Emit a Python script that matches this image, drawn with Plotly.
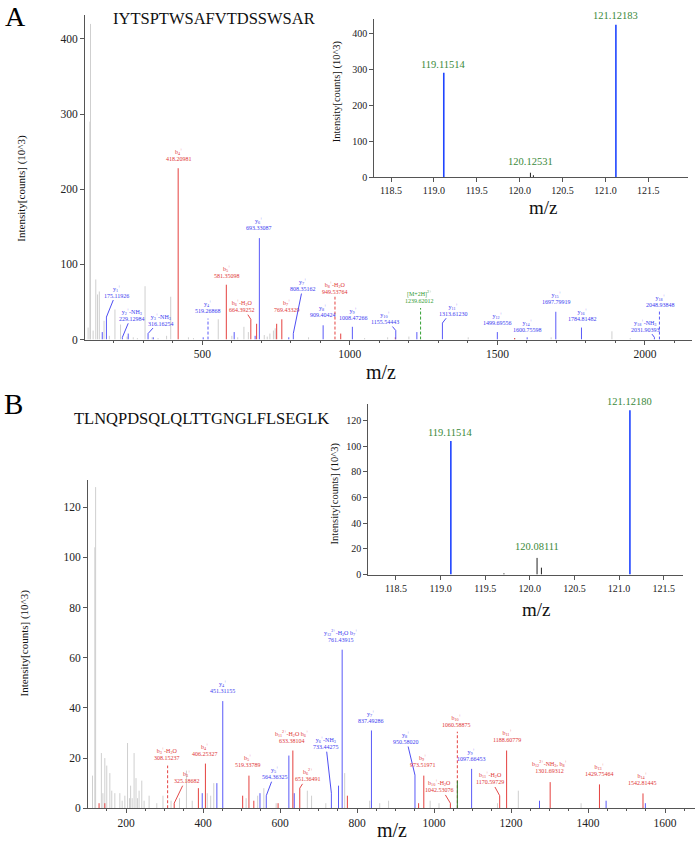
import plotly.graph_objects as go

W, H = 697, 847
SERIF = "Liberation Serif, Times New Roman, serif"

# ------------------------------------------------------------------ data
A_SEQUENCE = "IYTSPTWSAFVTDSSWSAR"
B_SEQUENCE = "TLNQPDSQLQLTTGNGLFLSEGLK"
Y_TITLE = "Intensity[counts] (10^3)"
X_TITLE = "m/z"

# Panel A, unassigned peaks
A_GRAY_MZ = [113, 119.1, 121.1, 130, 139, 145, 151, 167, 185, 204, 223, 245, 266, 280, 306, 330, 350,
             379, 393, 453, 470, 554, 600, 620, 641, 656, 710, 720, 729, 741, 747, 860, 1050, 1128,
             1200, 1401, 1560, 1682, 1888, 1950]
A_GRAY_INT = [16, 290, 420, 12, 80, 60, 64, 25, 5, 40, 20, 4, 3, 2, 71, 3, 2, 5, 57, 3, 2, 27, 5, 3,
              17, 10, 6, 4, 8, 12, 15, 3, 2, 3, 4, 3, 2, 3, 11, 2]
A_RED_MZ = [684, 752, 969, 1154, 1558]
A_RED_INT = [21, 21, 8, 3, 2]
A_BLUE_MZ = [161, 249, 334, 503, 608, 679, 793, 1227]
A_BLUE_INT = [10, 8, 3, 3, 10, 5, 3, 10]

# Panel A, annotated fragment ions
A_ION_MZ = [175.11926, 229.12984, 316.16254, 418.20981, 519.26868, 581.35098, 664.39252, 693.33087,
            769.43329, 808.35162, 909.40424, 949.53764, 1008.47266, 1155.54443, 1239.62012,
            1313.61230, 1499.69556, 1600.75598, 1697.79919, 1784.81482, 2031.90393, 2048.93848]
A_ION_INT = [30, 3, 8, 228, 28, 73, 27, 135, 27, 8, 19, 57, 17, 12, 42, 22, 10, 3, 37, 16, 3, 40]
A_ION_NAME = ["y<sub>1</sub><sup>+</sup>", "y<sub>2</sub><sup>+</sup>-NH<sub>3</sub>",
              "y<sub>3</sub><sup>+</sup>-NH<sub>3</sub>", "b<sub>4</sub><sup>+</sup>",
              "y<sub>4</sub><sup>+</sup>", "b<sub>5</sub><sup>+</sup>",
              "b<sub>6</sub><sup>+</sup>-H<sub>2</sub>O", "y<sub>6</sub><sup>+</sup>",
              "b<sub>7</sub><sup>+</sup>", "y<sub>7</sub><sup>+</sup>", "y<sub>8</sub><sup>+</sup>",
              "b<sub>8</sub><sup>+</sup>-H<sub>2</sub>O", "y<sub>9</sub><sup>+</sup>",
              "y<sub>10</sub><sup>+</sup>", "[M+2H]<sup>2+</sup>", "y<sub>11</sub><sup>+</sup>",
              "y<sub>12</sub><sup>+</sup>", "y<sub>14</sub><sup>+</sup>", "y<sub>15</sub><sup>+</sup>",
              "y<sub>16</sub><sup>+</sup>", "y<sub>18</sub><sup>+</sup>-NH<sub>3</sub>",
              "y<sub>18</sub><sup>+</sup>"]
A_ION_KIND = ["y", "y", "y", "b", "y", "b", "b", "y", "b", "y", "y", "b", "y", "y", "M", "y", "y", "y",
              "y", "y", "y", "y"]
A_ION_DASHED = [False, False, False, False, True, False, False, False, False, False, False, True,
                False, False, True, False, False, False, False, False, False, True]

# Panel A inset
A_INSET_MZ = [119.11514, 120.12531, 120.16, 121.12183]
A_INSET_INT = [291, 12, 5, 425]
A_INSET_KIND = ["rep", "other", "other", "rep"]
A_INSET_LABEL = ["119.11514", "120.12531", "", "121.12183"]

# Panel B, unassigned peaks
B_GRAY_MZ = [113, 119.1, 121.1, 136, 140, 145, 150, 158, 163, 171, 184, 190, 197, 204, 209, 212, 216,
             221, 226, 230, 234, 241, 247, 260, 280, 296, 317, 339, 357, 372, 411, 420, 428, 512, 542,
             558, 590, 671, 682, 719, 768, 833, 859, 882, 990, 1013, 1165, 1219, 1382]
B_GRAY_INT = [13, 104, 128, 22, 6, 20, 17, 14, 7, 6, 6, 3, 5, 26, 4, 9, 4, 22, 12, 4, 7, 11, 3, 5, 2,
              5, 3, 4, 15, 3, 6, 5, 10, 4, 5, 8, 2, 7, 5, 2, 14, 3, 2, 3, 3, 2, 2, 7, 2]
B_RED_MZ = [130, 145, 388, 503, 532, 595, 775, 960]
B_RED_INT = [2, 2, 8, 5, 3, 2, 5, 2]
B_BLUE_MZ = [398, 436, 548, 623, 637, 752, 1274, 1447, 1549]
B_BLUE_INT = [6, 10, 6, 21, 6, 9, 3, 3, 2]
B_DKGREEN_MZ = [1060.58875]
B_DKGREEN_INT = [11]

# Panel B, annotated fragment ions
B_ION_MZ = [308.15237, 325.18682, 406.25327, 451.31155, 519.33789, 564.36325, 633.38104, 651.36491,
            733.44275, 761.43915, 837.49286, 950.58020, 973.51971, 1042.53076, 1060.58875,
            1097.66453, 1170.59729, 1188.60779, 1301.69312, 1429.75464, 1542.81445]
B_ION_INT = [17, 2, 17.8, 42.7, 13, 5, 23, 8, 6, 63.2, 31, 13.2, 13, 2, 30.5, 15.7, 5, 23, 10.4, 9.5, 5.9]
B_ION_NAME = ["b<sub>3</sub><sup>+</sup>-H<sub>2</sub>O", "b<sub>3</sub><sup>+</sup>",
              "b<sub>4</sub><sup>+</sup>", "y<sub>4</sub><sup>+</sup>", "b<sub>5</sub><sup>+</sup>",
              "y<sub>5</sub><sup>+</sup>", "b<sub>11</sub><sup>2+</sup>-H<sub>2</sub>O b<sub>6</sub><sup>+</sup>",
              "b<sub>6</sub><sup>2+</sup>", "y<sub>6</sub><sup>+</sup>-NH<sub>3</sub>",
              "y<sub>12</sub><sup>2+</sup>-H<sub>2</sub>O b<sub>7</sub><sup>+</sup>",
              "y<sub>7</sub><sup>+</sup>", "y<sub>8</sub><sup>+</sup>", "b<sub>9</sub><sup>+</sup>",
              "b<sub>10</sub><sup>+</sup>-H<sub>2</sub>O", "b<sub>10</sub><sup>+</sup>",
              "y<sub>9</sub><sup>+</sup>", "b<sub>11</sub><sup>+</sup>-H<sub>2</sub>O",
              "b<sub>11</sub><sup>+</sup>", "b<sub>12</sub><sup>2+</sup>-NH<sub>3</sub>, b<sub>8</sub><sup>+</sup>",
              "b<sub>13</sub><sup>+</sup>", "b<sub>14</sub><sup>+</sup>"]
B_ION_KIND = ["b", "b", "b", "y", "b", "y", "b", "b", "y", "y", "y", "y", "b", "b", "b", "y", "b", "b",
              "b", "b", "b"]
B_ION_DASHED = [True, False, False, False, False, False, False, False, False, False, False, False,
                False, False, True, False, False, False, False, False, False]

# Panel B inset
B_INSET_MZ = [119.11514, 119.71, 120.08111, 120.13, 121.12180]
B_INSET_INT = [104, 1, 13, 5.4, 128]
B_INSET_KIND = ["rep", "other", "other", "other", "rep"]
B_INSET_LABEL = ["119.11514", "", "120.08111", "", "121.12180"]

# ------------------------------------------------------------------ styling / placement
COL = {"gray": "#cfcfcf", "b": "#e5413f", "y": "#5a5af8", "M": "#33a033",
       "rep": "#1f45ff", "other": "#222222", "dkgreen": "#2a7a2a"}
LABEL_COL = {"b": "#e03535", "y": "#3a3af0", "M": "#2f9a2f"}
INSET_LABEL_COL = "#3b8a3b"

# label centre offset from peak top (dx, dy in px) and whether a leader line is drawn
A_LABEL_POS = [(10.5, -26, True), (9.6, -23, True), (13, -14.5, True), (0.8, -13.4, False),
               (0, -11.8, False), (0.7, -13.7, False), (-8.8, -13.6, True), (-0.3, -14.3, False),
               (5.2, -14.1, False), (10, -49, True), (0, -15.1, False), (0.1, -9.4, False),
               (0.7, -13.6, False), (-10.7, -13, True), (-1.5, -11.2, False), (10.7, -13.8, True),
               (0.5, -13.9, False), (0.7, -12.2, False), (1.1, -14, False), (1.4, -12.9, False),
               (-9.2, -12.2, True), (0.8, -9.2, False)]
B_LABEL_POS = [(-0.6, -12, False), (12.8, -26.5, True), (-0.4, -14, False), (0, -14.7, False),
               (-0.6, -15.4, False), (8.7, -23, True), (-0.6, -14.5, False), (8.5, -13.3, True),
               (-5.7, -50.5, True), (-1.2, -14.4, False), (-0.7, -14.4, False), (-9, -37.6, True),
               (-0.5, -15.4, False), (-10.4, -17.3, True), (-0.6, -10.8, False), (-0.6, -14.8, False),
               (-9.7, -17.7, True), (0.1, -15, False), (-0.2, -15.2, False), (-0.1, -15, False),
               (-0.3, -15.3, False)]


def px(x):
    return x / W


def py(y):
    return 1 - y / H


def sticks(mzs, ints):
    xs, ys = [], []
    for m, h in zip(mzs, ints):
        xs += [m, m, None]
        ys += [0, h, None]
    return xs, ys


fig = go.Figure()


def add_sticks(mzs, ints, color, xa, ya, dash="solid", width=1.0):
    if not mzs:
        return
    xs, ys = sticks(mzs, ints)
    fig.add_trace(go.Scatter(x=xs, y=ys, mode="lines", xaxis=xa, yaxis=ya,
                             line=dict(color=color, width=width, dash=dash),
                             hoverinfo="skip", showlegend=False))


annotations = []


def add_panel(gray, red, blue, ions, xa, ya, label_pos, extra=None):
    add_sticks(gray[0], gray[1], COL["gray"], xa, ya)
    add_sticks(red[0], red[1], COL["b"], xa, ya)
    add_sticks(blue[0], blue[1], COL["y"], xa, ya)
    mz, it, names, kinds, dashed = ions
    for kind in ("b", "y", "M"):
        for d in (False, True):
            sel = [i for i in range(len(mz)) if kinds[i] == kind and dashed[i] == d]
            add_sticks([mz[i] for i in sel], [it[i] for i in sel], COL[kind], xa, ya,
                       dash="3px,2px" if d else "solid")
    if extra:
        add_sticks(extra[0], extra[1], COL["dkgreen"], xa, ya)
    for i in range(len(mz)):
        dx, dy, leader = label_pos[i]
        txt = f"{names[i]}<br>{mz[i]:.5f}"
        c = LABEL_COL[kinds[i]]
        base = dict(x=mz[i], y=it[i], xref=xa, yref=ya, text=txt, align="center",
                    font=dict(family=SERIF, size=6, color=c))
        if leader:
            base.update(showarrow=True, ax=dx, ay=dy, arrowhead=0, arrowwidth=0.9,
                        arrowcolor=c, standoff=0, startstandoff=0)
        else:
            base.update(showarrow=False, xanchor="center", yanchor="middle", xshift=dx, yshift=-dy)
        annotations.append(base)


def add_inset(mz, it, kinds, labels, xa, ya, dys):
    for kind in ("rep", "other"):
        sel = [i for i in range(len(mz)) if kinds[i] == kind]
        add_sticks([mz[i] for i in sel], [it[i] for i in sel], COL[kind], xa, ya,
                   width=1.6 if kind == "rep" else 1.0)
    k = 0
    for i in range(len(mz)):
        if labels[i]:
            annotations.append(dict(x=mz[i], y=it[i], xref=xa, yref=ya, text=labels[i],
                                    showarrow=False, xanchor="center", yanchor="middle",
                                    yshift=dys[k], font=dict(family=SERIF, size=10.5,
                                                               color=INSET_LABEL_COL)))
            k += 1


add_panel((A_GRAY_MZ, A_GRAY_INT), (A_RED_MZ, A_RED_INT), (A_BLUE_MZ, A_BLUE_INT),
          (A_ION_MZ, A_ION_INT, A_ION_NAME, A_ION_KIND, A_ION_DASHED), "x", "y", A_LABEL_POS)
add_inset(A_INSET_MZ, A_INSET_INT, A_INSET_KIND, A_INSET_LABEL, "x2", "y2", [8.5, 11, 9])
add_panel((B_GRAY_MZ, B_GRAY_INT), (B_RED_MZ, B_RED_INT), (B_BLUE_MZ, B_BLUE_INT),
          (B_ION_MZ, B_ION_INT, B_ION_NAME, B_ION_KIND, B_ION_DASHED), "x3", "y3", B_LABEL_POS,
          extra=(B_DKGREEN_MZ, B_DKGREEN_INT))
add_inset(B_INSET_MZ, B_INSET_INT, B_INSET_KIND, B_INSET_LABEL, "x4", "y4", [8.5, 11, 8.5])


def text(x, y, s, size, angle=0, color="#111", yanchor="middle"):
    annotations.append(dict(x=px(x), y=py(y), xref="paper", yref="paper", text=s, showarrow=False,
                            xanchor="center", yanchor=yanchor, textangle=angle, borderpad=0,
                            font=dict(family=SERIF, size=size, color=color)))


text(15, 0, "A", 28, color="#000", yanchor="top")
text(214, 19, A_SEQUENCE, 16.5, color="#111")
text(13, 407, "B", 29, color="#000")
text(201, 421, B_SEQUENCE, 16.5, color="#111")
text(381, 375, X_TITLE, 20)
text(392, 836, X_TITLE, 20)
text(543, 209, X_TITLE, 19)
text(536, 614, X_TITLE, 19)
text(22, 190, Y_TITLE, 11, angle=-90)
text(24, 648, Y_TITLE, 11, angle=-90)
text(337, 92, Y_TITLE, 10.5, angle=-90)
text(335, 497, Y_TITLE, 10.5, angle=-90)

AX_LINE = "#555555"


def axis(domain, rng, font_size, anchor, **kw):
    d = dict(domain=domain, range=rng, anchor=anchor, showgrid=False, zeroline=False,
             showline=True, linecolor=AX_LINE, linewidth=1, ticks="outside", ticklen=4,
             tickcolor=AX_LINE, tickwidth=1,
             tickfont=dict(family=SERIF, size=font_size, color="#222"), fixedrange=True)
    d.update(kw)
    return d


fig.update_layout(
    width=W, height=H, margin=dict(l=0, r=0, t=0, b=0),
    paper_bgcolor="white", plot_bgcolor="rgba(0,0,0,0)", showlegend=False,
    xaxis=axis([px(85), px(692)], [102.5, 2159.3], 11.5, "y", tickvals=[500, 1000, 1500, 2000],
               minor=dict(dtick=100, ticklen=2, tickcolor=AX_LINE, ticks="outside")),
    yaxis=axis([py(342), py(15)], [0, 432], 11.5, "x", dtick=100),
    xaxis2=axis([px(374.3), px(688.3)], [118.305, 121.966], 10, "y2", dtick=0.5, tick0=118.5,
                tickformat=".1f"),
    yaxis2=axis([py(178.3), py(19)], [0, 441.5], 10, "x2", dtick=100),
    xaxis3=axis([px(88), px(695)], [101.3, 1677.9], 11.5, "y3", dtick=200, tick0=200,
                minor=dict(dtick=50, ticklen=2, tickcolor=AX_LINE, ticks="outside")),
    yaxis3=axis([py(814), py(483)], [0, 131], 11.5, "x3", dtick=20),
    xaxis4=axis([px(368.3), px(683.3)], [118.19, 121.72], 10, "y4", dtick=0.5, tick0=118.5,
                tickformat=".1f"),
    yaxis4=axis([py(578.7), py(406.7)], [0, 133], 10, "x4", dtick=20),
    annotations=annotations,
)

# the page's default 8px body margin would shift the whole figure; remove it
fig.write_html("out.html", config={"displayModeBar": False},
               post_script="document.body.style.margin='0';document.body.style.overflow='hidden';")
